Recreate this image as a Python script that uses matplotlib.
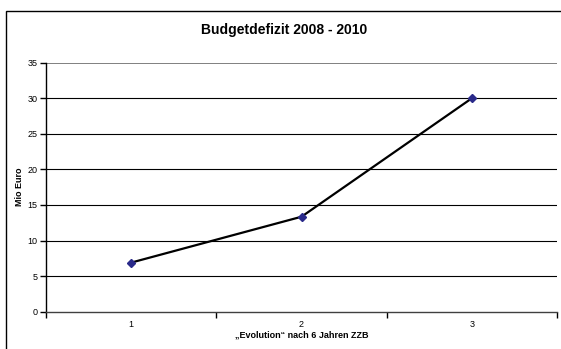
import matplotlib.pyplot as plt
from matplotlib.patches import Rectangle

# data
categories = [1, 2, 3]
values = [6.9, 13.35, 30.0]
y_ticks = [0, 5, 10, 15, 20, 25, 30, 35]

title = "Budgetdefizit 2008 - 2010"
x_label = "\u201eEvolution\u201c nach 6 Jahren ZZB"
y_label = "Mio Euro"

plt.rcParams['font.family'] = ['Liberation Sans', 'DejaVu Sans']

fig = plt.figure(figsize=(5.61, 3.49), dpi=100)
ax = fig.add_axes([46 / 561, 1 - 311.7 / 349, (557 - 46) / 561, (311.7 - 62.7) / 349])

# outer chart frame (right and bottom edges fall outside the picture)
frame_x = 6 / 561
frame_y = 1 - 10.5 / 349
fig.add_artist(Rectangle((frame_x, -0.5), 1.0, frame_y + 0.5, transform=fig.transFigure,
                         facecolor="none", edgecolor="black", lw=1.0, clip_on=False))

# gridlines
for t in y_ticks[1:-1]:
    ax.axhline(t, color="black", lw=0.8, zorder=1)
ax.axhline(y_ticks[-1], color="#808080", lw=1.4, zorder=1)

ax.plot(categories, values, color="black", lw=1.6, zorder=3,
        marker="D", markersize=4.5, markerfacecolor="#2a2a8a", markeredgecolor="#2a2a8a")

ax.set_xlim(0.5, 3.5)
ax.set_ylim(0, 35)
ax.set_yticks(y_ticks)
ax.set_xticks(categories)
ax.set_xticks([0.5, 1.5, 2.5, 3.5], minor=True)
ax.tick_params(axis="x", which="major", length=0, pad=6, labelsize=6.5)
ax.tick_params(axis="x", which="minor", length=4, width=1, direction="out")
ax.tick_params(axis="y", length=4, width=1, direction="out", pad=2, labelsize=6.5)

for side in ["top", "right"]:
    ax.spines[side].set_visible(False)
ax.spines["left"].set_linewidth(1.0)
ax.spines["bottom"].set_linewidth(1.0)
ax.spines["bottom"].set_color("#404040")

ax.set_xlabel(x_label, fontsize=6.5, fontweight="bold", labelpad=1)
ax.set_ylabel(y_label, fontsize=6.5, fontweight="bold", labelpad=3)
fig.text(284 / 561, 1 - 30 / 349, title, ha="center", va="center",
         fontsize=10, fontweight="bold")

fig.savefig("out.png", dpi=100)
